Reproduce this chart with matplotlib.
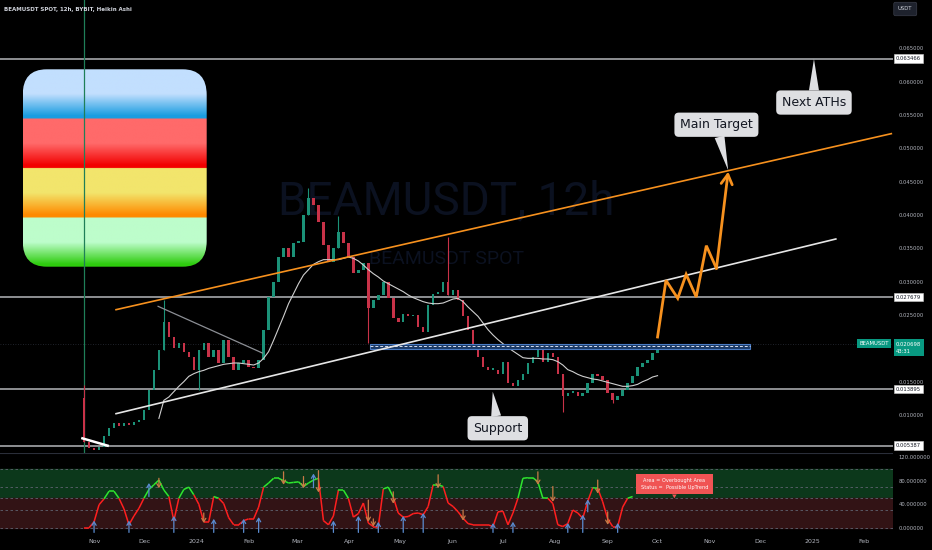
import numpy as np
import pandas as pd
import matplotlib
matplotlib.use('Agg')
import matplotlib.pyplot as plt
import matplotlib.dates as mdates
import matplotlib.colors as mcolors
from matplotlib.collections import LineCollection
from matplotlib.patches import FancyBboxPatch, Rectangle

# ---- price data (12h Heikin Ashi, sampled roughly every 3 days) ----
first_open = 0.0125
closes = [0.0060, 0.0050, 0.0048, 0.0052, 0.0068, 0.0080, 0.0088, 0.0083, 0.0088, 0.0085,
          0.0090, 0.0092, 0.0108, 0.0138, 0.0168, 0.0198, 0.0240, 0.0217, 0.0200, 0.0208,
          0.0195, 0.0187, 0.0168, 0.0198, 0.0208, 0.0187, 0.0198, 0.0178, 0.0213, 0.0187,
          0.0168, 0.0178, 0.0183, 0.0172, 0.0170, 0.0183, 0.0228, 0.0277, 0.0300, 0.0337,
          0.0350, 0.0337, 0.0358, 0.0360, 0.0400, 0.0425, 0.0415, 0.0390, 0.0355, 0.0330,
          0.0350, 0.0375, 0.0358, 0.0337, 0.0313, 0.0318, 0.0328, 0.0260, 0.0272, 0.0280,
          0.0300, 0.0275, 0.0245, 0.0240, 0.0252, 0.0248, 0.0250, 0.0232, 0.0225, 0.0265,
          0.0282, 0.0285, 0.0300, 0.0280, 0.0288, 0.0273, 0.0248, 0.0228, 0.0203, 0.0187,
          0.0172, 0.0168, 0.0168, 0.0162, 0.0180, 0.0148, 0.0143, 0.0153, 0.0162, 0.0178,
          0.0187, 0.0198, 0.0180, 0.0193, 0.0187, 0.0162, 0.0128, 0.0133, 0.0135, 0.0128,
          0.0133, 0.0148, 0.0162, 0.0158, 0.0153, 0.0133, 0.0123, 0.0128, 0.0138, 0.0148,
          0.0158, 0.0172, 0.0178, 0.0183, 0.0193, 0.0207]
wick_idx = [0, 16, 23, 45, 51, 57, 73, 96, 106]
wick_px = [0.0145, 0.0273, 0.0138, 0.0440, 0.0398, 0.0208, 0.0367, 0.0105, 0.0118]

# moving average (starts at candle 15)
ma_start = 15
ma_vals = [0.0095, 0.0122, 0.0127, 0.0135, 0.0143, 0.0150, 0.0158, 0.0162, 0.0165, 0.0167,
           0.0170, 0.0172, 0.0174, 0.0176, 0.0177, 0.0178, 0.0178, 0.0177, 0.0176, 0.0175,
           0.0178, 0.0185, 0.0195, 0.0212, 0.0230, 0.0248, 0.0267, 0.0282, 0.0297, 0.0310,
           0.0318, 0.0326, 0.0330, 0.0333, 0.0333, 0.0333, 0.0333, 0.0335, 0.0337, 0.0335,
           0.0331, 0.0325, 0.0318, 0.0312, 0.0307, 0.0301, 0.0297, 0.0293, 0.0289, 0.0285,
           0.0280, 0.0276, 0.0273, 0.0270, 0.0268, 0.0267, 0.0267, 0.0268, 0.0271, 0.0274,
           0.0275, 0.0270, 0.0262, 0.0255, 0.0248, 0.0238, 0.0228, 0.0220, 0.0213, 0.0207,
           0.0201, 0.0196, 0.0191, 0.0186, 0.0185, 0.0185, 0.0185, 0.0184, 0.0184, 0.0183,
           0.0180, 0.0175, 0.0168, 0.0165, 0.0161, 0.0158, 0.0156, 0.0154, 0.0153, 0.0151,
           0.0149, 0.0147, 0.0145, 0.0143, 0.0143, 0.0144, 0.0146, 0.0150, 0.0153, 0.0157,
           0.0159]

# horizontal levels and last price
levels = [0.063466, 0.027679, 0.013895, 0.005387]
last_price = 0.020698
countdown = '43:31'
# 0.005 and 0.020 sit under the level / price tags, as on the reference
price_ticks = [0.010, 0.015, 0.025, 0.030, 0.035, 0.040, 0.045, 0.050,
               0.055, 0.060, 0.065]

# drawings: (date, price) pairs
channel_top = [('2023-11-14', 0.0258), ('2025-02-17', 0.0522)]
channel_bot = [('2023-11-14', 0.0102), ('2025-01-15', 0.0364)]
wedge_line = [('2023-12-09', 0.0263), ('2024-02-09', 0.0193)]
start_line = [('2023-10-25', 0.0065), ('2023-11-09', 0.0054)]
zone_dates = ['2024-04-13', '2024-11-25']
zone_px = [0.0199, 0.0207]
proj_dates = ['2024-10-01', '2024-10-06', '2024-10-13', '2024-10-18', '2024-10-24',
              '2024-10-30', '2024-11-05', '2024-11-12']
proj_px = [0.0217, 0.0302, 0.0275, 0.0311, 0.0277, 0.0354, 0.0320, 0.0465]
listing_date = '2023-10-26'

# oscillator (same dates as candles)
osc = [0, 0, 10, 39, 49, 62, 62, 50, 32, 5,
       20, 33, 50, 65, 73, 81, 64, 53, 12, 50,
       65, 69, 56, 40, 10, 10, 53, 50, 41, 17,
       5, 5, 12, 15, 15, 35, 69, 76, 84, 84,
       80, 76, 77, 78, 70, 76, 81, 84, 12, 5,
       20, 64, 64, 50, 18, 24, 42, 8, 2, 2,
       66, 69, 52, 25, 18, 19, 24, 25, 22, 36,
       73, 73, 70, 42, 36, 27, 16, 7, 5, 5,
       5, 5, 2, 27, 28, 5, 25, 50, 84, 85,
       85, 78, 50, 50, 41, 5, 2, 7, 30, 25,
       16, 45, 68, 67, 44, 15, 2, 2, 35, 50,
       53]
up_idx = [2, 9, 13, 18, 26, 32, 35, 46, 50, 55, 59, 64, 68, 82, 86, 97, 100, 101, 107]
up_from = [-8, -8, 53, -8, -8, -8, -8, 68, -8, -8, -8, -8, -8, -8, -8, -8, -8, 27, -8]
up_to = [12, 12, 76, 20, 15, 15, 18, 92, 12, 20, 10, 20, 25, 8, 10, 8, 22, 48, 8]
dn_idx = [15, 24, 40, 44, 47, 57, 58, 62, 71, 76, 91, 94, 103, 105]
dn_from = [84, 25, 95, 87, 97, 47, 15, 61, 90, 30, 95, 70, 81, 27]
dn_to = [67, 8, 73, 67, 60, 10, 2, 41, 67, 12, 73, 44, 58, 5]
osc_ticks = [0, 40, 80, 120]

month_ticks = ['2023-11-01', '2023-12-01', '2024-01-01', '2024-02-01', '2024-03-01',
               '2024-04-01', '2024-05-01', '2024-06-01', '2024-07-01', '2024-08-01',
               '2024-09-01', '2024-10-01', '2024-11-01', '2024-12-01', '2025-01-01',
               '2025-02-01']
month_labels = ['Nov', 'Dec', '2024', 'Feb', 'Mar', 'Apr', 'May', 'Jun', 'Jul', 'Aug',
                'Sep', 'Oct', 'Nov', 'Dec', '2025', 'Feb']

GREEN = '#1b9278'
RED = '#c83248'
ORANGE = '#f7911e'
AXTXT = '#b2b5be'
W, H = 932, 550


def dn(d):
    return mdates.date2num(pd.Timestamp(d))


fig = plt.figure(figsize=(W / 100, H / 100), dpi=100, facecolor='black')

# ---- icon (four gradient bands in a rounded square) ----
ax_icon = fig.add_axes([22.7 / W, 1 - 266.7 / H, 184 / W, 197.4 / H], zorder=0)
bands = [('#c2dffe', '#1a9de0'), ('#ff6a6a', '#f20000'),
         ('#f2e56c', '#ff8a00'), ('#bdfdcb', '#2ecc0e')]
rows = []
for top, bot in bands:
    c0 = np.array(mcolors.to_rgb(top))
    c1 = np.array(mcolors.to_rgb(bot))
    t = np.linspace(0, 1, 60)
    w = np.clip((t - 0.5) / 0.45, 0, 1)[:, None]
    rows.append(c0 * (1 - w) + c1 * w)
img = np.concatenate(rows)[:, None, :]
im = ax_icon.imshow(img, aspect='auto', extent=[0, 1, 0, 1], interpolation='bilinear')
clip = FancyBboxPatch((0, 0), 1, 1, boxstyle='round,pad=0,rounding_size=0.13',
                      transform=ax_icon.transAxes, fc='none', ec='none')
ax_icon.add_patch(clip)
im.set_clip_path(clip)
ax_icon.axis('off')

# ---- main price pane ----
ax = fig.add_axes([0, 97 / H, 893 / W, 453 / H], zorder=2)
ax.set_facecolor('none')
for s in ax.spines.values():
    s.set_visible(False)

dates = pd.date_range('2023-10-26', '2024-10-01', periods=len(closes))
opens = [first_open] + closes[:-1]
cols = [GREEN if c >= o else RED for o, c in zip(opens, closes)]
bottoms = [min(o, c) for o, c in zip(opens, closes)]
heights = [max(abs(c - o), 0.00025) for o, c in zip(opens, closes)]

ax.text(0.5, 0.556, 'BEAMUSDT, 12h', transform=ax.transAxes, ha='center', va='center',
        fontsize=33, family='Roboto', color='#0b1120', zorder=1)
ax.text(0.5, 0.428, 'BEAMUSDT SPOT', transform=ax.transAxes, ha='center', va='center',
        fontsize=14, family='Roboto', color='#0b1120', zorder=1)

ax.axhline(last_price, color='#2a2e39', lw=0.6, ls=(0, (1, 2)), zorder=1)
for v in levels:
    ax.axhline(v, color='#b4b6ba', lw=1.1, zorder=2)
ax.axvline(dn(listing_date), color='#1f7f58', lw=0.9, zorder=2)

ax.bar(dates, heights, bottom=bottoms, width=1.5, color=cols, zorder=3)
for i, wp in zip(wick_idx, wick_px):
    ax.vlines(dates[i], min(closes[i], opens[i], wp), max(closes[i], opens[i], wp),
              color=cols[i], lw=0.8, zorder=3)
ax.plot(dates[ma_start:], ma_vals, color='#cfcfcf', lw=0.8, zorder=4)

zx0, zx1 = dn(zone_dates[0]), dn(zone_dates[1])
ax.add_patch(Rectangle((zx0, zone_px[0]), zx1 - zx0, zone_px[1] - zone_px[0],
                       fc='#1b3a66', ec='#4a7cc4', lw=0.8, zorder=4))
ax.plot([zx0, zx1], [sum(zone_px) / 2] * 2, color='#d8e0f0', lw=0.7, ls=(0, (3, 2)), zorder=4)

for pts, col, lw in [(channel_top, ORANGE, 1.2), (channel_bot, '#e6e6e6', 1.2),
                     (wedge_line, '#8c8f95', 0.9), (start_line, '#ffffff', 1.8)]:
    ax.plot([dn(p[0]) for p in pts], [p[1] for p in pts], color=col, lw=lw, zorder=5)

pxs = [dn(d) for d in proj_dates]
ax.plot(pxs[:-1], proj_px[:-1], color=ORANGE, lw=2, zorder=6, solid_joinstyle='miter')
ax.annotate('', xy=(pxs[-1], proj_px[-1]), xytext=(pxs[-2], proj_px[-2]),
            arrowprops=dict(arrowstyle='->,head_length=0.7,head_width=0.4', color=ORANGE,
                            lw=2, shrinkA=0, shrinkB=0), zorder=6)


def callout(text, tip, box):
    ax.annotate(text, xy=(dn(tip[0]), tip[1]), xytext=(dn(box[0]), box[1]),
                ha='center', va='center', fontsize=9, color='#131722',
                bbox=dict(boxstyle='round,pad=0.45,rounding_size=0.35', fc='#dedfe2', ec='none'),
                arrowprops=dict(arrowstyle='wedge,tail_width=0.8,shrink_factor=0.5',
                                fc='#dedfe2', ec='none', shrinkA=0, shrinkB=0),
                zorder=8)


callout('Main Target', ('2024-11-12', 0.0467), ('2024-11-05', 0.05354))
callout('Next ATHs', ('2025-01-02', 0.0634), ('2025-01-02', 0.05687))
callout('Support', ('2024-06-25', 0.01349), ('2024-06-28', 0.00801))

ax.set_xlim(pd.Timestamp('2023-09-06'), pd.Timestamp('2025-02-18'))
ax.set_ylim(0.0043, 0.07225)
ax.yaxis.tick_right()
ax.set_yticks(price_ticks)
ax.set_yticklabels([f'{v:.6f}' for v in price_ticks])
ax.tick_params(axis='y', length=0, pad=4, labelsize=3.8, labelcolor=AXTXT)
ax.tick_params(axis='x', bottom=False, labelbottom=False)

for v in levels:
    ax.annotate(f'{v:.6f}', xy=(1, v), xycoords=('axes fraction', 'data'),
                xytext=(3, 0), textcoords='offset pixels', ha='left', va='center',
                fontsize=3.8, color='#131722', annotation_clip=False,
                bbox=dict(boxstyle='square,pad=0.35', fc='white', ec='#cccccc', lw=0.4), zorder=9)
ax.annotate(f'{last_price:.6f}\n{countdown}', xy=(1, last_price), xycoords=('axes fraction', 'data'),
            xytext=(3, -4), textcoords='offset pixels', ha='left', va='center',
            fontsize=3.8, color='white', linespacing=1.5, annotation_clip=False,
            bbox=dict(boxstyle='square,pad=0.45', fc='#089981', ec='none'), zorder=9)
ax.annotate('BEAMUSDT', xy=(1, last_price), xycoords=('axes fraction', 'data'),
            xytext=(-4, 0), textcoords='offset pixels', ha='right', va='center',
            fontsize=3.8, color='white', annotation_clip=False,
            bbox=dict(boxstyle='square,pad=0.4', fc='#089981', ec='none'), zorder=9)

# ---- oscillator pane ----
ax2 = fig.add_axes([0, 17 / H, 893 / W, 80 / H], zorder=2)
ax2.set_facecolor('black')
for s in ax2.spines.values():
    s.set_visible(False)
ax2.axhspan(50, 100, color='#0c381b', zorder=0)
ax2.axhspan(0, 50, color='#321315', zorder=0)
for lvl in [100, 70, 50, 30, 0]:
    ax2.axhline(lvl, color='#5f6370', lw=0.6, ls=(0, (3, 3)), zorder=1)
ax2.axhline(127, color='#2a2e39', lw=0.8)

ox = mdates.date2num(dates[:len(osc)])
segs = [[(ox[i], osc[i]), (ox[i + 1], osc[i + 1])] for i in range(len(osc) - 1)]
seg_cols = ['#2ee62e' if min(osc[i], osc[i + 1]) >= 49 else '#ff1f1f' for i in range(len(osc) - 1)]
ax2.add_collection(LineCollection(segs, colors=seg_cols, linewidths=1.1, zorder=3))

for i, a, b in zip(up_idx, up_from, up_to):
    ax2.annotate('', xy=(ox[i], b), xytext=(ox[i], a),
                 arrowprops=dict(arrowstyle='->,head_length=0.25,head_width=0.15',
                                 color='#5a8bd0', lw=0.9, shrinkA=0, shrinkB=0), zorder=4)
for i, a, b in zip(dn_idx, dn_from, dn_to):
    ax2.annotate('', xy=(ox[i], b), xytext=(ox[i], a),
                 arrowprops=dict(arrowstyle='->,head_length=0.25,head_width=0.15',
                                 color='#c97a46', lw=0.9, shrinkA=0, shrinkB=0), zorder=4)

ax2.annotate('Area = Overbought Area\nStatus =  Possible UpTrend', xy=(dn('2024-10-11'), 50),
             xytext=(dn('2024-10-11'), 74), ha='center', va='center', fontsize=3.6,
             color='white', linespacing=1.4,
             bbox=dict(boxstyle='square,pad=0.9', fc='#f05454', ec='none'),
             arrowprops=dict(arrowstyle='wedge,tail_width=0.9,shrink_factor=0.5',
                             fc='#f05454', ec='none', shrinkA=0, shrinkB=0), zorder=6)

ax2.set_xlim(ax.get_xlim())
ax2.set_ylim(-9, 127)
ax2.yaxis.tick_right()
ax2.set_yticks(osc_ticks)
ax2.set_yticklabels([f'{v:.6f}' for v in osc_ticks])
ax2.tick_params(axis='y', length=0, pad=4, labelsize=3.8, labelcolor=AXTXT)
ax2.set_xticks([dn(d) for d in month_ticks])
ax2.set_xticklabels(month_labels)
ax2.tick_params(axis='x', length=0, pad=4, labelsize=4.5, labelcolor=AXTXT)

# ---- header texts ----
fig.text(4 / W, 1 - 9 / H, 'BEAMUSDT SPOT, 12h, BYBIT, Heikin Ashi', fontsize=4,
         color='#d1d4dc', va='center', weight='bold')
fig.text(898 / W, 1 - 9 / H, 'USDT', fontsize=3.8, color='#d1d4dc', va='center',
         bbox=dict(boxstyle='round,pad=0.8,rounding_size=0.3', fc='#1e222d', ec='#3a3e4a', lw=0.5))

fig.savefig('out.png', dpi=100, facecolor='black')
